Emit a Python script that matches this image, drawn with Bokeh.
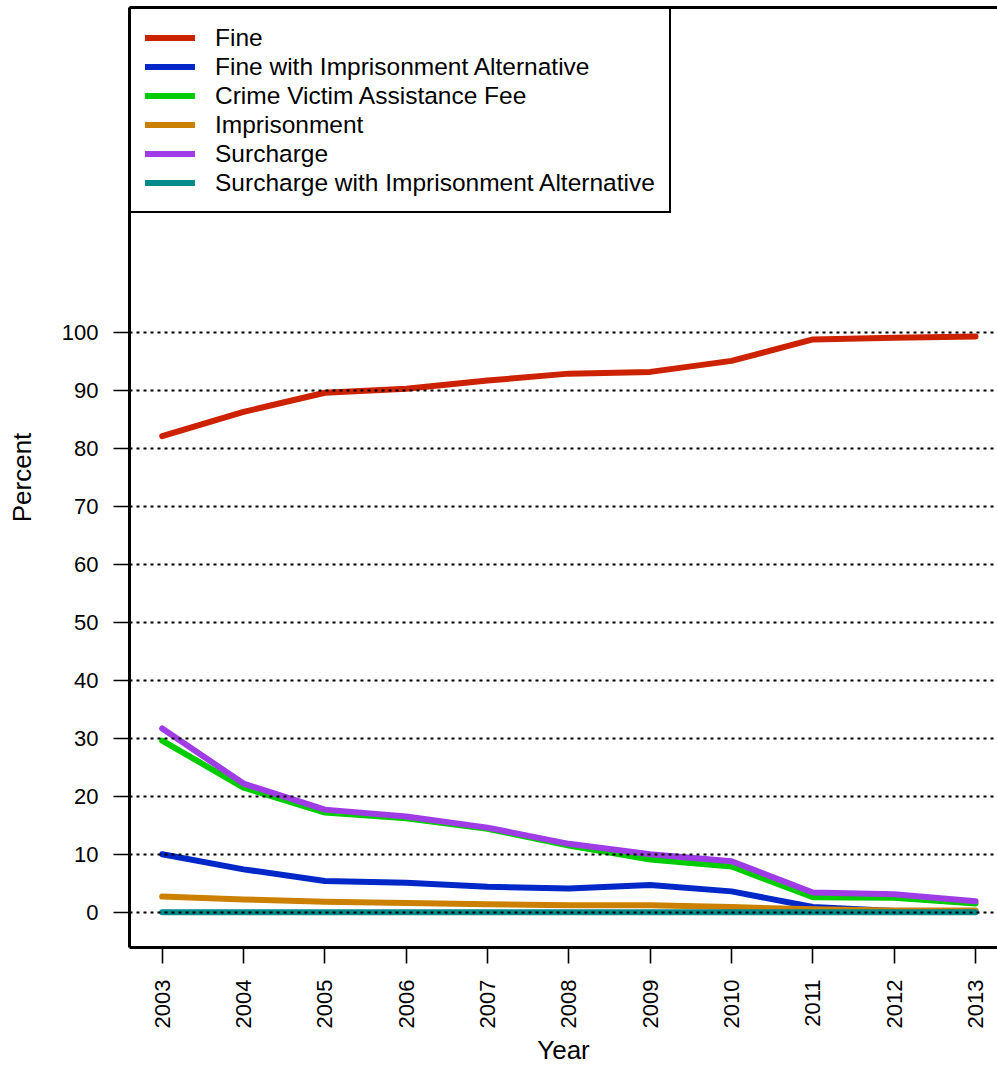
import math
from bokeh.plotting import figure
from bokeh.models import Range1d, LinearAxis, FixedTicker, Legend, LegendItem
from bokeh.embed import file_html
from bokeh.resources import INLINE

# ---- data ----
years = [2003, 2004, 2005, 2006, 2007, 2008, 2009, 2010, 2011, 2012, 2013]
fine = [82.1, 86.3, 89.6, 90.3, 91.7, 92.9, 93.2, 95.1, 98.8, 99.1, 99.3]
fine_imp_alt = [10.0, 7.4, 5.4, 5.1, 4.4, 4.1, 4.7, 3.6, 0.9, 0.2, 0.1]
crime_victim_fee = [29.6, 21.5, 17.2, 16.2, 14.4, 11.5, 9.1, 7.9, 2.6, 2.5, 1.5]
imprisonment = [2.7, 2.2, 1.8, 1.6, 1.4, 1.2, 1.2, 0.9, 0.5, 0.3, 0.3]
surcharge = [31.7, 22.2, 17.7, 16.5, 14.6, 11.8, 10.0, 8.8, 3.4, 3.1, 1.9]
surcharge_imp_alt = [0.0, 0.0, 0.0, 0.0, 0.0, 0.0, 0.0, 0.0, 0.0, 0.0, 0.0]

series_names = ["Fine", "Fine with Imprisonment Alternative", "Crime Victim Assistance Fee",
                "Imprisonment", "Surcharge", "Surcharge with Imprisonment Alternative"]
series_values = [fine, fine_imp_alt, crime_victim_fee, imprisonment, surcharge, surcharge_imp_alt]
series_colors = ["#CC2200", "#0028C8", "#00CC00", "#CC8000", "#A03CE6", "#008B8B"]
y_ticks = [0, 10, 20, 30, 40, 50, 60, 70, 80, 90, 100]

FONT = "Liberation Sans"

p = figure(width=997, height=1068,
           x_range=Range1d(2002.598, 2013.27), y_range=Range1d(-6.08, 156.05),
           output_backend="svg", toolbar_location=None,
           min_border_left=129, min_border_right=0, min_border_top=7, min_border_bottom=120)
p.outline_line_color = None
p.background_fill_color = "white"
p.border_fill_color = "white"

renderers = []
for name, vals, col in zip(series_names, series_values, series_colors):
    r = p.line(years, vals, line_color=col, line_width=6, line_cap="round", line_join="round")
    renderers.append(r)

# grid
p.xgrid.visible = False
p.ygrid.ticker = FixedTicker(ticks=y_ticks)
p.ygrid.grid_line_color = "black"
p.ygrid.grid_line_width = 1.8
p.ygrid.grid_line_dash = "3 4"
p.ygrid.level = "guide"

# axes
for ax in (p.xaxis[0], p.yaxis[0]):
    ax.axis_line_width = 3
    ax.axis_line_color = "black"
    ax.major_tick_out = 16
    ax.major_tick_in = 0
    ax.minor_tick_out = 0
    ax.minor_tick_in = 0
    ax.major_tick_line_width = 1.6
    ax.major_tick_line_color = "black"
    ax.major_label_text_font = FONT
    ax.major_label_text_font_size = "22px"
    ax.major_label_text_color = "black"
    ax.axis_label_text_font = FONT
    ax.axis_label_text_font_size = "26px"
    ax.axis_label_text_font_style = "normal"
    ax.axis_label_text_color = "black"

p.yaxis[0].ticker = FixedTicker(ticks=y_ticks)
p.yaxis[0].major_label_standoff = 15
p.yaxis[0].axis_label = "Percent"
p.yaxis[0].axis_label_standoff = 22

p.xaxis[0].ticker = FixedTicker(ticks=years)
p.xaxis[0].major_label_orientation = math.pi / 2
p.xaxis[0].major_label_standoff = 16
p.xaxis[0].axis_label = "Year"
p.xaxis[0].axis_label_standoff = 4

top_axis = LinearAxis(ticker=FixedTicker(ticks=[]), major_label_text_font_size="0px",
                      major_tick_out=0, major_tick_in=0, minor_tick_out=0, minor_tick_in=0,
                      major_label_standoff=0, axis_line_width=3, axis_line_color="black")
p.add_layout(top_axis, "above")

legend = Legend(items=[LegendItem(label=n, renderers=[r]) for n, r in zip(series_names, renderers)],
                location="top_left", margin=0, padding=14, spacing=0,
                glyph_width=50, glyph_height=29, label_height=29, label_standoff=20,
                label_text_font=FONT, label_text_font_size="24.5px", label_text_color="black",
                border_line_color="black", border_line_width=2, border_line_alpha=1.0,
                background_fill_color="white", background_fill_alpha=1)
p.add_layout(legend)

open("out.html", "w").write(file_html(p, INLINE))
